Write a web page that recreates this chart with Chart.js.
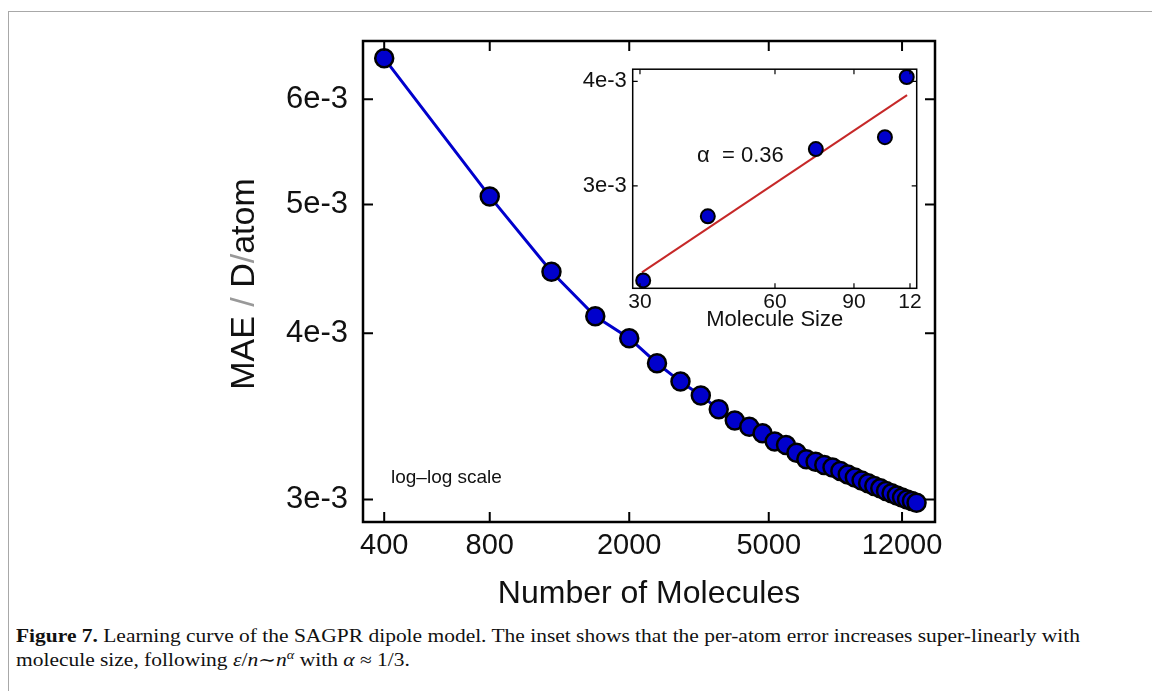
<!DOCTYPE html>
<html><head><meta charset="utf-8">
<script src="https://cdn.jsdelivr.net/npm/chart.js@4.4.1/dist/chart.umd.min.js"></script>
<style>
html,body{margin:0;padding:0;background:#fff;width:1152px;height:691px;overflow:hidden;}
#frame{position:absolute;left:8px;top:11px;width:1200px;height:720px;border:1px solid #a8a8a8;}
#main{position:absolute;left:0;top:0;}
#inset{position:absolute;left:560px;top:50px;}
.cap{position:absolute;left:16px;font-family:"Liberation Serif","DejaVu Serif",serif;font-size:18px;color:#111;white-space:nowrap;transform-origin:0 50%;}
#cap1{top:626px;}
#cap2{top:648px;}
</style></head><body>
<div id="frame"></div>
<canvas id="main" width="1152" height="620"></canvas>
<canvas id="inset" width="380" height="290"></canvas>
<div class="cap" id="cap1"><b>Figure 7.</b> Learning curve of the SAGPR dipole model. The inset shows that the per-atom error increases super-linearly with</div>
<div class="cap" id="cap2">molecule size, following <i>ε</i>/<i>n</i>∼<i>n</i><sup style="font-size:12px"><i>α</i></sup> with <i>α</i> ≈ 1/3.</div>
<script>
// ---- main learning curve data ----
const nMolecules = [400,800,1200,1600,2000,2400,2800,3200,3600,4000,4400,4800,5200,5600,6000,6400,6800,7200,7600,8000,8400,8800,9200,9600,10000,10400,10800,11200,11600,12000,12400,12800,13200];
const maePerAtom = [6.44e-3,5.07e-3,4.45e-3,4.12e-3,3.966e-3,3.798e-3,3.679e-3,3.592e-3,3.507e-3,3.439e-3,3.403e-3,3.364e-3,3.316e-3,3.297e-3,3.253e-3,3.216e-3,3.202e-3,3.184e-3,3.171e-3,3.152e-3,3.133e-3,3.116e-3,3.100e-3,3.085e-3,3.071e-3,3.058e-3,3.044e-3,3.032e-3,3.021e-3,3.010e-3,3.000e-3,2.992e-3,2.983e-3];
const xTicks = [400,800,2000,5000,12000];
const xTickLabels = ["400","800","2000","5000","12000"];
const yTicks = [3e-3,4e-3,5e-3,6e-3];
const yTickLabels = ["3e-3","4e-3","5e-3","6e-3"];

// ---- inset data ----
const moleculeSize = [30.5,42.5,74,105.5,118];
const insetMae = [2.314e-3,2.76e-3,3.32e-3,3.43e-3,4.047e-3];
const fitSize = [30.3,118.2];
const fitMae = [2.366e-3,3.85e-3];
const insetXTicks = [30,60,90,120];
const insetXTickLabels = ["30","60","90","12"];
const insetYTicks = [3e-3,4e-3];
const insetYTickLabels = ["3e-3","4e-3"];

Chart.defaults.font.family = '"Liberation Sans", Arial, sans-serif';
Chart.defaults.color = '#111';

const boxPlugin = {
  id: 'box',
  afterDraw(chart, args, o) {
    const {ctx, chartArea: a, scales: {x, y}} = chart;
    ctx.save();
    ctx.strokeStyle = '#000';
    ctx.lineWidth = o.tw;
    ctx.beginPath();
    x.ticks.forEach(t => {
      const p = x.getPixelForValue(t.value);
      ctx.moveTo(p, a.bottom); ctx.lineTo(p, a.bottom - o.len);
      ctx.moveTo(p, a.top); ctx.lineTo(p, a.top + o.len);
    });
    y.ticks.forEach(t => {
      const p = y.getPixelForValue(t.value);
      ctx.moveTo(a.left, p); ctx.lineTo(a.left + o.len, p);
      ctx.moveTo(a.right, p); ctx.lineTo(a.right - o.len, p);
    });
    ctx.stroke();
    ctx.lineWidth = o.lw;
    ctx.strokeRect(a.left, a.top, a.right - a.left, a.bottom - a.top);
    ctx.restore();
  }
};

const textPlugin = {
  id: 'texts',
  afterDraw(chart, args, o) {
    const ctx = chart.ctx;
    (o.items || []).forEach(it => {
      ctx.save();
      ctx.translate(it.x, it.y);
      if (it.rot) ctx.rotate(it.rot);
      ctx.font = it.font;
      ctx.textBaseline = 'middle';
      let total = 0;
      it.parts.forEach(p => total += ctx.measureText(p[0]).width);
      let cx = it.align === 'left' ? 0 : -total / 2;
      it.parts.forEach(p => {
        ctx.fillStyle = p[1];
        ctx.fillText(p[0], cx, 0);
        cx += ctx.measureText(p[0]).width;
      });
      ctx.restore();
    });
  }
};

function setTicks(vals) { return s => { s.ticks = vals.map(v => ({value: v})); }; }
function fixW(w) { return s => { s.width = w; }; }
function fixH(h) { return s => { s.height = h; }; }

new Chart(document.getElementById('main'), {
  type: 'line',
  data: {
    datasets: [{
      data: nMolecules.map((n, i) => ({x: n, y: maePerAtom[i]})),
      borderColor: '#0000cc',
      borderWidth: 3,
      pointRadius: 9,
      pointBorderWidth: 2.5,
      pointBackgroundColor: '#0000cc',
      pointBorderColor: '#000',
      tension: 0,
      clip: false
    }]
  },
  options: {
    responsive: false, animation: false, devicePixelRatio: 1,
    layout: {padding: {left: 0, top: 41, right: 217, bottom: 0}},
    plugins: {
      legend: {display: false}, tooltip: {enabled: false},
      box: {lw: 2.5, tw: 2, len: 10},
      texts: {items: [
        {x: 245, y: 284, rot: -Math.PI/2, font: '34px "Liberation Sans"',
         parts: [["MAE", "#111"], [" / ", "#999"], ["D", "#111"], ["/", "#999"], ["atom", "#111"]]},
        {x: 391, y: 478, align: 'left', font: '19px "Liberation Sans"', parts: [["log–log scale", "#111"]]}
      ]}
    },
    scales: {
      x: {
        type: 'logarithmic', min: 348, max: 14900, bounds: 'data',
        grid: {display: false, drawTicks: false}, border: {display: false},
        afterBuildTicks: setTicks(xTicks), afterFit: fixH(98),
        ticks: {autoSkip: false, maxRotation: 0, padding: 7, font: {size: 29},
                callback: v => xTickLabels[xTicks.indexOf(v)]},
        title: {display: true, text: 'Number of Molecules', font: {size: 32}, padding: {top: 0, bottom: 7}}
      },
      y: {
        type: 'logarithmic', min: 2.885e-3, max: 6.636e-3, bounds: 'data',
        grid: {display: false, drawTicks: false}, border: {display: false},
        afterBuildTicks: setTicks(yTicks), afterFit: fixW(363),
        ticks: {autoSkip: false, padding: 15, font: {size: 31},
                callback: v => yTickLabels[yTicks.indexOf(v)]}
      }
    }
  },
  plugins: [boxPlugin, textPlugin]
});

new Chart(document.getElementById('inset'), {
  type: 'scatter',
  data: {
    datasets: [{
      data: moleculeSize.map((m, i) => ({x: m, y: insetMae[i]})),
      pointRadius: 7, pointBorderWidth: 2,
      pointBackgroundColor: '#0000cc', pointBorderColor: '#000',
      showLine: false, order: 0, clip: false
    }, {
      type: 'line',
      data: fitSize.map((m, i) => ({x: m, y: fitMae[i]})),
      borderColor: '#c62828', borderWidth: 2, pointRadius: 0, order: 1
    }]
  },
  options: {
    responsive: false, animation: false, devicePixelRatio: 1,
    layout: {padding: {left: 0, top: 10, right: 23.3, bottom: 0}},
    plugins: {
      legend: {display: false}, tooltip: {enabled: false},
      box: {lw: 1.5, tw: 1.2, len: 5},
      texts: {items: [
        {x: 137, y: 106, align: 'left', font: '22px "Liberation Sans"', parts: [["α  = 0.36", "#111"]]}
      ]}
    },
    scales: {
      x: {
        type: 'logarithmic', min: 28.9, max: 124.2, bounds: 'data',
        grid: {display: false, drawTicks: false}, border: {display: false},
        afterBuildTicks: setTicks(insetXTicks), afterFit: fixH(51.7),
        ticks: {autoSkip: false, maxRotation: 0, padding: 1, font: {size: 21},
                callback: v => insetXTickLabels[insetXTicks.indexOf(v)]},
        title: {display: true, text: 'Molecule Size', font: {size: 22}, padding: {top: 0, bottom: 7}}
      },
      y: {
        type: 'logarithmic', min: 2.2645e-3, max: 4.135e-3, bounds: 'data',
        grid: {display: false, drawTicks: false}, border: {display: false},
        afterBuildTicks: setTicks(insetYTicks), afterFit: fixW(72.7),
        ticks: {autoSkip: false, padding: 6, font: {size: 22},
                callback: v => insetYTickLabels[insetYTicks.indexOf(v)]}
      }
    }
  },
  plugins: [boxPlugin, textPlugin]
});

// fit caption line 1 to the reference width
(function(){
  const c1 = document.getElementById('cap1');
  const c2 = document.getElementById('cap2');
  const w = c1.getBoundingClientRect().width;
  const s = 1064 / w;
  c1.style.transform = 'scaleX(' + s + ')';
  c2.style.transform = 'scaleX(' + s + ')';
})();
</script>
</body></html>
